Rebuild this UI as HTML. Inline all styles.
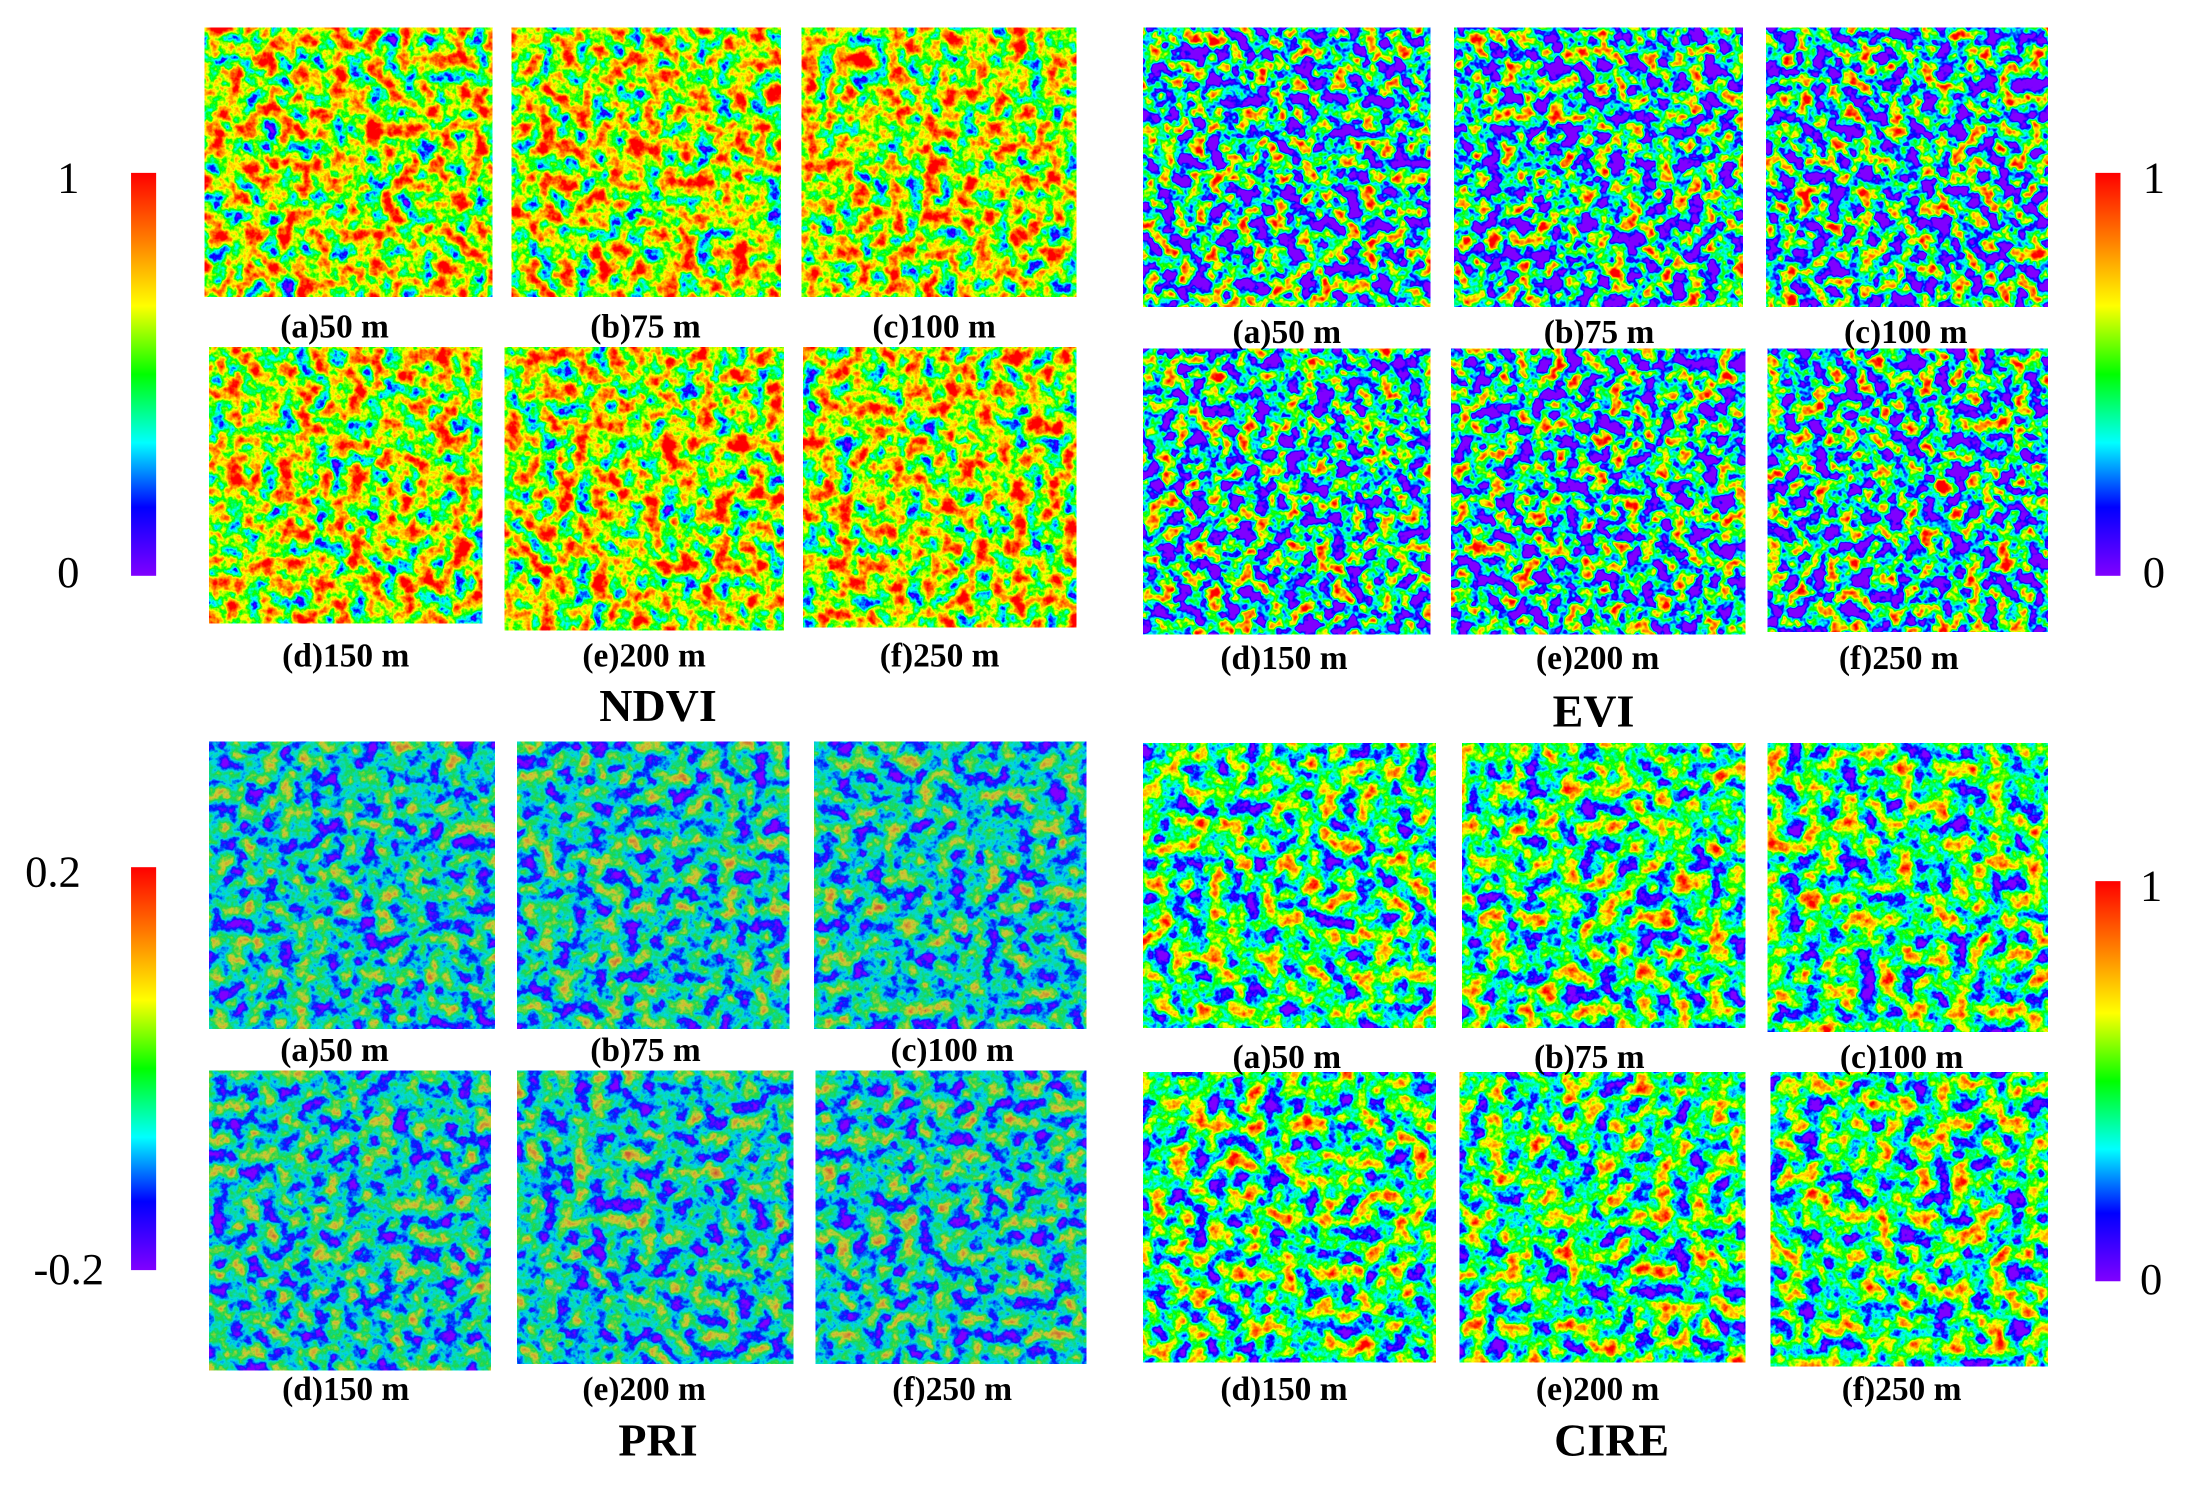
<!DOCTYPE html>
<html><head><meta charset="utf-8"><style>
html,body{margin:0;padding:0;background:#fff;}
svg{display:block;}
text{font-family:"Liberation Serif",serif;}
.l{font-size:24px;font-weight:bold;text-anchor:middle;}
.t{font-size:33px;font-weight:bold;text-anchor:middle;}
.n{font-size:32px;}
.nd{filter:url(#ndvi);} .ev{filter:url(#evi);} .pr{filter:url(#pri);} .ci{filter:url(#cire);}
</style></head><body>
<svg width="2186" height="1489" viewBox="0 0 1568 1068" preserveAspectRatio="none" xmlns="http://www.w3.org/2000/svg">
<defs>
<linearGradient id="cb" x1="0" y1="0" x2="0" y2="1">
<stop offset="0" stop-color="#ff0000"/><stop offset="0.17" stop-color="#ff8000"/>
<stop offset="0.33" stop-color="#ffff00"/><stop offset="0.5" stop-color="#00ff00"/>
<stop offset="0.67" stop-color="#00ffff"/><stop offset="0.83" stop-color="#0000ff"/>
<stop offset="1" stop-color="#8000ff"/></linearGradient>
<filter id="ndvi" x="0" y="0" width="1" height="1" color-interpolation-filters="sRGB">
<feTurbulence type="fractalNoise" baseFrequency="0.08" numOctaves="4" seed="3"/>
<feColorMatrix type="matrix" values="1.6 0 0 0 -0.18  1.6 0 0 0 -0.18  1.6 0 0 0 -0.18  0 0 0 0 1"/>
<feComponentTransfer><feFuncR type="table" tableValues="0.5 0 0 0 1 1 1"/><feFuncG type="table" tableValues="0 0 1 1 1 0.5 0"/><feFuncB type="table" tableValues="1 1 1 0 0 0 0"/></feComponentTransfer>
</filter>
<filter id="evi" x="0" y="0" width="1" height="1" color-interpolation-filters="sRGB">
<feTurbulence type="fractalNoise" baseFrequency="0.09" numOctaves="3" seed="7"/>
<feColorMatrix type="matrix" values="2.2 0 0 0 -0.74  2.2 0 0 0 -0.74  2.2 0 0 0 -0.74  0 0 0 0 1"/>
<feComponentTransfer><feFuncR type="table" tableValues="0.5 0 0 0 1 1 1"/><feFuncG type="table" tableValues="0 0 1 1 1 0.5 0"/><feFuncB type="table" tableValues="1 1 1 0 0 0 0"/></feComponentTransfer>
</filter>
<filter id="pri" x="0" y="0" width="1" height="1" color-interpolation-filters="sRGB">
<feTurbulence type="fractalNoise" baseFrequency="0.085" numOctaves="4" seed="11"/>
<feColorMatrix type="matrix" values="1.3 0 0 0 -0.28  1.3 0 0 0 -0.28  1.3 0 0 0 -0.28  0 0 0 0 1"/>
<feComponentTransfer><feFuncR type="table" tableValues="0.5 0 0 0.1 0.8 0.8 0.8"/><feFuncG type="table" tableValues="0 0.1 0.85 0.85 0.8 0.5 0.2"/><feFuncB type="table" tableValues="1 1 0.9 0.3 0.2 0.2 0.2"/></feComponentTransfer>
</filter>
<filter id="cire" x="0" y="0" width="1" height="1" color-interpolation-filters="sRGB">
<feTurbulence type="fractalNoise" baseFrequency="0.075" numOctaves="4" seed="5"/>
<feColorMatrix type="matrix" values="1.6 0 0 0 -0.36  1.6 0 0 0 -0.36  1.6 0 0 0 -0.36  0 0 0 0 1"/>
<feComponentTransfer><feFuncR type="table" tableValues="0.5 0 0 0 1 1 1"/><feFuncG type="table" tableValues="0 0 1 1 1 0.5 0"/><feFuncB type="table" tableValues="1 1 1 0 0 0 0"/></feComponentTransfer>
</filter>
</defs>
<rect width="1568" height="1068" fill="#fff"/>

<rect class="nd" x="147" y="20" width="206" height="193"/><rect class="nd" x="367" y="20" width="193" height="193"/><rect class="nd" x="575" y="20" width="197" height="193"/>
<rect class="nd" x="150" y="249" width="196" height="198"/><rect class="nd" x="362" y="249" width="200" height="203"/><rect class="nd" x="576" y="249" width="196" height="201"/>
<text class="l" x="240" y="242">(a)50 m</text><text class="l" x="463" y="242">(b)75 m</text><text class="l" x="670" y="242">(c)100 m</text>
<text class="l" x="248" y="478">(d)150 m</text><text class="l" x="462" y="478">(e)200 m</text><text class="l" x="674" y="478">(f)250 m</text>
<text class="t" x="472" y="517">NDVI</text>

<rect class="ev" x="820" y="20" width="206" height="200"/><rect class="ev" x="1043" y="20" width="207" height="200"/><rect class="ev" x="1267" y="20" width="202" height="200"/>
<rect class="ev" x="820" y="250" width="206" height="205"/><rect class="ev" x="1041" y="250" width="211" height="205"/><rect class="ev" x="1268" y="250" width="201" height="203"/>
<text class="l" x="923" y="246">(a)50 m</text><text class="l" x="1147" y="246">(b)75 m</text><text class="l" x="1367" y="246">(c)100 m</text>
<text class="l" x="921" y="480">(d)150 m</text><text class="l" x="1146" y="480">(e)200 m</text><text class="l" x="1362" y="480">(f)250 m</text>
<text class="t" x="1143" y="521">EVI</text>

<rect class="pr" x="150" y="532" width="205" height="206"/><rect class="pr" x="371" y="532" width="195" height="206"/><rect class="pr" x="584" y="532" width="195" height="206"/>
<rect class="pr" x="150" y="768" width="202" height="215"/><rect class="pr" x="371" y="768" width="198" height="210"/><rect class="pr" x="585" y="768" width="194" height="210"/>
<text class="l" x="240" y="761">(a)50 m</text><text class="l" x="463" y="761">(b)75 m</text><text class="l" x="683" y="761">(c)100 m</text>
<text class="l" x="248" y="1004">(d)150 m</text><text class="l" x="462" y="1004">(e)200 m</text><text class="l" x="683" y="1004">(f)250 m</text>
<text class="t" x="472" y="1044">PRI</text>

<rect class="ci" x="820" y="533" width="210" height="204"/><rect class="ci" x="1049" y="533" width="203" height="204"/><rect class="ci" x="1268" y="533" width="201" height="207"/>
<rect class="ci" x="820" y="769" width="210" height="208"/><rect class="ci" x="1047" y="769" width="205" height="208"/><rect class="ci" x="1270" y="769" width="199" height="211"/>
<text class="l" x="923" y="766">(a)50 m</text><text class="l" x="1140" y="766">(b)75 m</text><text class="l" x="1364" y="766">(c)100 m</text>
<text class="l" x="921" y="1004">(d)150 m</text><text class="l" x="1146" y="1004">(e)200 m</text><text class="l" x="1364" y="1004">(f)250 m</text>
<text class="t" x="1156" y="1044">CIRE</text>

<rect x="94" y="124" width="18" height="289" fill="url(#cb)"/>
<rect x="1503" y="124" width="18" height="289" fill="url(#cb)"/>
<rect x="94" y="622" width="18" height="289" fill="url(#cb)"/>
<rect x="1503" y="632" width="18" height="287" fill="url(#cb)"/>
<text class="n" x="41" y="138">1</text><text class="n" x="41" y="421">0</text>
<text class="n" x="1537" y="138">1</text><text class="n" x="1537" y="421">0</text>
<text class="n" x="18" y="636">0.2</text><text class="n" x="24" y="921">-0.2</text>
<text class="n" x="1535" y="646">1</text><text class="n" x="1535" y="928">0</text>
</svg>
</body></html>
